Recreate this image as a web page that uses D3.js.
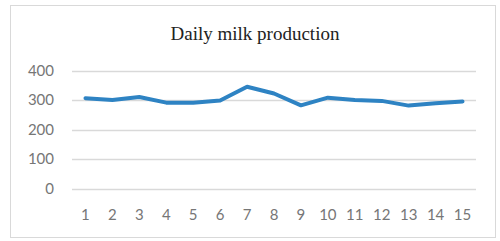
<!DOCTYPE html>
<html>
<head>
<meta charset="utf-8">
<script src="https://cdn.jsdelivr.net/npm/d3@7"></script>
<style>
  body { margin: 0; background: #fff; }
  svg { display: block; }
</style>
</head>
<body>
<div id="chart"></div>
<script>
// chart values
const days = ["1", "2", "3", "4", "5", "6", "7", "8", "9", "10", "11", "12", "13", "14", "15"];
const production = [306, 300, 310, 291, 291, 298, 345, 322, 282, 308, 300, 297, 281, 289, 295];
const yTicks = [0, 100, 200, 300, 400];

const width = 500, height = 241;
const margin = { top: 70.5, right: 24, bottom: 52.5, left: 72 };

const svg = d3.select('#chart').append('svg')
    .attr('width', width)
    .attr('height', height);

// outer chart border
svg.append('rect')
    .attr('x', 10.5).attr('y', 5.5)
    .attr('width', 485).attr('height', 232)
    .attr('fill', '#fff')
    .attr('stroke', '#d9d9d9');

svg.append('text')
    .attr('x', 255).attr('y', 40)
    .attr('text-anchor', 'middle')
    .style('font-family', '"Liberation Serif", "Times New Roman", serif')
    .style('font-size', '19px')
    .attr('fill', '#222')
    .text('Daily milk production');

const x = d3.scaleBand()
    .domain(days)
    .range([margin.left, width - margin.right]);

const y = d3.scaleLinear()
    .domain([0, 400])
    .range([height - margin.bottom, margin.top]);

// gridlines
svg.append('g')
    .selectAll('line')
    .data(yTicks)
    .enter().append('line')
    .attr('x1', margin.left)
    .attr('x2', width - margin.right)
    .attr('y1', d => Math.round(y(d)) + 0.5)
    .attr('y2', d => Math.round(y(d)) + 0.5)
    .attr('stroke', '#d9d9d9')
    .attr('stroke-width', 1.3);

const labelFont = 'Lato, "Open Sans", sans-serif';

// y axis labels
svg.append('g')
    .selectAll('text')
    .data(yTicks)
    .enter().append('text')
    .attr('x', 54)
    .attr('y', d => y(d))
    .attr('dy', '0.35em')
    .attr('text-anchor', 'end')
    .style('font-family', labelFont)
    .style('font-size', '15px')
    .attr('fill', '#767676')
    .text(d => d);

// x axis labels
svg.append('g')
    .selectAll('text')
    .data(days)
    .enter().append('text')
    .attr('x', d => x(d) + x.bandwidth() / 2)
    .attr('y', 220)
    .attr('text-anchor', 'middle')
    .style('font-family', labelFont)
    .style('font-size', '15px')
    .attr('fill', '#767676')
    .text(d => d);

const line = d3.line()
    .x((d, i) => x(days[i]) + x.bandwidth() / 2)
    .y(d => y(d));

svg.append('path')
    .datum(production)
    .attr('d', line)
    .attr('fill', 'none')
    .attr('stroke', '#2e83c3')
    .attr('stroke-width', 4)
    .attr('stroke-linejoin', 'round')
    .attr('stroke-linecap', 'round');
</script>
</body>
</html>
